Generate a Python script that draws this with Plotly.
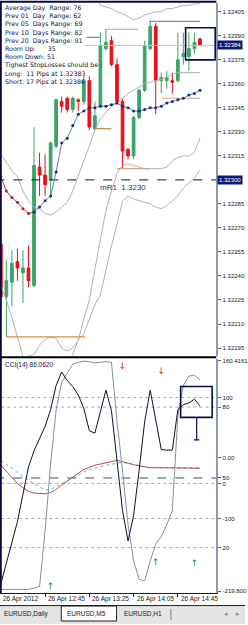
import plotly.graph_objects as go

# ---------------- data ----------------
bars = list(range(37))
opens  = [1.32260,1.32227,1.32236,1.32249,1.32242,1.32245,1.32234,1.32308,1.32303,1.32300,
          1.32321,1.32349,1.32351,1.32344,1.32350,1.32349,1.32362,1.32332,1.32346,1.32382,
          1.32387,1.32372,1.32349,1.32319,1.32315,1.32339,1.32356,1.32382,1.32396,1.32362,
          1.32362,1.32362,1.32362,1.32377,1.32377,1.32382,1.32388]
highs  = [1.32262,1.32250,1.32256,1.32257,1.32256,1.32259,1.32333,1.32317,1.32316,1.32324,
          1.32351,1.32352,1.32352,1.32352,1.32351,1.32365,1.32365,1.32349,1.32392,1.32394,
          1.32390,1.32376,1.32351,1.32320,1.32340,1.32357,1.32387,1.32399,1.32398,1.32367,
          1.32368,1.32367,1.32392,1.32392,1.32392,1.32392,1.32389]
lows   = [1.32216,1.32202,1.32221,1.32237,1.32223,1.32233,1.32233,1.32290,1.32290,1.32289,
          1.32320,1.32342,1.32342,1.32342,1.32343,1.32347,1.32331,1.32331,1.32345,1.32381,
          1.32371,1.32347,1.32307,1.32313,1.32313,1.32338,1.32355,1.32381,1.32341,1.32354,
          1.32357,1.32354,1.32361,1.32372,1.32368,1.32379,1.32384]
closes = [1.32227,1.32237,1.32248,1.32245,1.32245,1.32237,1.32309,1.32303,1.32297,1.32323,
          1.32350,1.32346,1.32344,1.32351,1.32349,1.32362,1.32333,1.32340,1.32384,1.32386,
          1.32372,1.32349,1.32318,1.32315,1.32339,1.32356,1.32384,1.32396,1.32362,1.32364,
          1.32364,1.32361,1.32375,1.32379,1.32382,1.32386,1.32384]

ma_line = [1.32302,1.32293,1.32289,1.32286,1.32282,1.32279,1.32280,1.32283,1.32287,1.32290,
           1.32305,1.32323,1.32326,1.32334,1.32341,1.32343,1.32345,1.32345,1.32346,1.32346,
           1.32347,1.32348,1.32346,1.32345,1.32343,1.32343,1.32344,1.32345,1.32345,1.32346,
           1.32348,1.32349,1.32350,1.32351,1.32353,1.32354,1.32356]
ma_down_bars = 6   # bars drawn as red dots

band_1 = [1.32316,1.32311,1.32306,1.32302,1.32293,1.32287,1.32283,1.32282,1.32279,1.32278,
          1.32280,1.32283,1.32286,1.32293,1.32303,1.32312,1.32321,1.32331,1.32338,1.32342,
          1.32346,1.32348,1.32351,1.32354,1.32356,1.32358,1.32360,1.32361,1.32362,1.32363,
          1.32364,1.32366,1.32367,1.32367,1.32367,1.32367,1.32367]
band_2 = [None]*16 + [1.32425,1.32418,1.32409,1.32408,1.32407,1.32405,1.32404,1.32402,1.32400,
          1.32401,1.32403,1.32404,1.32405,1.32405,1.32407,1.32407,1.32408,1.32409,1.32409,
          1.32410,1.32410]
band_3 = [1.32234,1.32225,1.32214,1.32202,1.32191,1.32178,1.32172,1.32169,1.32169,1.32169,
          1.32172,1.32178,1.32184,1.32191,1.32200,1.32213,1.32225,1.32244,1.32262,1.32281,
          1.32293,1.32304,1.32309,1.32310,1.32309,1.32308,1.32307,1.32307,1.32307,1.32307,
          1.32308,1.32312,1.32314,1.32315,1.32315,1.32317,1.32326]
band_4 = [1.32181,1.32184,1.32188,1.32189,1.32189,1.32190,1.32191,1.32197,1.32200,1.32202,
          1.32201,1.32195,1.32193,1.32195,1.32200,1.32204,1.32213,1.32222,1.32228,1.32244,
          1.32259,1.32272,1.32287,1.32290,1.32288,1.32287,1.32286,1.32285,1.32283,1.32282,
          1.32284,1.32287,1.32290,1.32295,1.32298,1.32301,1.32306]

# horizontal drawn levels: (start bar, end bar, price, colour)
levels_main = [
    (1.0, 15.2, 1.32202, "#d98c4a"),
    (17.1, 20.0, 1.32332, "#c98a5a"),
    (21.0, 27.0, 1.32307, "#c9a587"),
    (29.1, 36.0, 1.32351, "#c9a587"),
    (18.8, 24.8, 1.32394, "#8cc4dc"),
    (26.8, 36.0, 1.32399, "#6f97a3"),
    (15.5, 17.9, 1.32389, "#6f97a3"),
]
pivot_price = 1.32300
pivot_label = "mR1  1.3230"
current_price = 1.32384
current_from_bar = 15.2
price_box = (33.4, 38.75, 1.32395, 1.32375)

price_ticks = [1.32405,1.32390,1.32375,1.32360,1.32345,1.32330,1.32315,1.32285,
               1.32270,1.32255,1.32240,1.32225,1.32210,1.32195]

info_lines = ["Average Day  Range: 76", "Prev 01  Day  Range: 62", "Prev 05  Days Range: 69",
              "Prev 10  Days Range: 82", "Prev 20  Days Range: 91", "Room Up:      35",
              "Room Down: 51", "Tighest StopLosses should be :", "Long:  11 Pips at 1.32383",
              "Short: 17 Pips at 1.32386"]

cci_main = [-208,-175,-140,-105,-60,-15,12,32,52,80,120,142,128,118,104,82,45,41,75,112,
            78,-10,-87,-137,-95,-20,60,112,60,14,13,13,80,88,91,97,86]
cci_slow = [-217,-217,-217,-217,-217,-217,-215,-212,-120,-10,80,125,140,155,158,160,159,157,
            158,159,158,60,-20,-110,-170,-200,-203,-170,-142,-130,-110,-87,70,120,135,137,129]
cci_red  = [-12,-22,-32,-42,-49,-55,-58,-59,-59,-57,-52,-45,-38,-32,-25,-19,-15,-12,-10,-8,
            -6,-4,-6,-9,-11,-13,-15,-16,-16,-16,-16,-16,-17,-17,-17,-17,-17]
cci_teal = [-4,-10,-17,-24,-31,-37,-42,-48,-53,-52,-47,-42,-37,-32,-27,-23,-19,-16,-14,-12,
            -10,-8,-7,-9,-11,-13,-15,-16,-16,-16,-16,-16,-16,-16,-16,-16,-16]
cci_title = "CCI(14) 86.0620"
cci_tick_vals = [160.4161, 100, 84, 0, -33, -42, -100, -148, -219.8]
cci_tick_text = ["160.4161", "100", "80", "0.00", "50", "0", "-100", "20", "-219.800"]
cci_dotted = [100, 84, -42, -100, -148]
cci_dashed = [-33]
sell_arrows_bar = [22, 29]
sell_arrows_val = [150, 142]
buy_arrows_bar = [9, 28, 35]
buy_arrows_val = [-213, -173, -175]
cci_box = (32.5, 38.2, 118, 67)
cci_box_arrow = (35.4, 66, 30)

time_bars = [0, 8, 16, 24, 32]
time_labels = ["26 Apr 2012", "26 Apr 12:45", "26 Apr 13:25", "26 Apr 14:05", "26 Apr 14:45"]
tabs = ["EURUSD,Daily", "EURUSD,M5", "EURUSD,H1"]

# ---------------- figure ----------------
W, H = 248, 625
def fx(p): return p / W
def fy(p): return 1 - p / H

GREEN = "#3aa46a"
RED = "#e8101a"
GRAY = "#b2b2b2"

fig = go.Figure()

for b in (band_1, band_2, band_3, band_4):
    fig.add_trace(go.Scatter(x=bars, y=b, mode="lines", line=dict(color=GRAY, width=1),
                             hoverinfo="skip", connectgaps=False))

for (x0, x1, p, c) in levels_main:
    fig.add_trace(go.Scatter(x=[x0, x1], y=[p, p], mode="lines", line=dict(color=c, width=1.2),
                             hoverinfo="skip"))

fig.add_trace(go.Scatter(x=[current_from_bar, 40], y=[current_price, current_price], mode="lines",
                         line=dict(color="#c4c4c4", width=1), hoverinfo="skip"))
fig.add_trace(go.Scatter(x=[-1, 40], y=[pivot_price, pivot_price], mode="lines",
                         line=dict(color="#101020", width=1, dash="dash"), hoverinfo="skip"))

# MA line: red while falling, blue while rising
fig.add_trace(go.Scatter(x=bars[:ma_down_bars+1], y=ma_line[:ma_down_bars+1], mode="lines",
                         line=dict(color="#b04040", width=1), hoverinfo="skip"))
fig.add_trace(go.Scatter(x=bars[:ma_down_bars], y=ma_line[:ma_down_bars], mode="markers",
                         marker=dict(color="#b02020", size=3), hoverinfo="skip"))
fig.add_trace(go.Scatter(x=bars[ma_down_bars:], y=ma_line[ma_down_bars:], mode="lines+markers",
                         line=dict(color="#5a7fa8", width=1),
                         marker=dict(color="#1a2a80", size=3), hoverinfo="skip"))

fig.add_trace(go.Candlestick(x=bars, open=opens, high=highs, low=lows, close=closes,
                             increasing=dict(line=dict(color=GREEN, width=1), fillcolor=GREEN),
                             decreasing=dict(line=dict(color=RED, width=1), fillcolor=RED),
                             whiskerwidth=0, hoverinfo="skip"))

# CCI window
for v in cci_dotted:
    fig.add_trace(go.Scatter(x=[-1, 40], y=[v, v], mode="lines", yaxis="y2",
                             line=dict(color="#a8a8a8", width=1, dash="dot"), hoverinfo="skip"))
for v in cci_dashed:
    fig.add_trace(go.Scatter(x=[-1, 40], y=[v, v], mode="lines", yaxis="y2",
                             line=dict(color="#405060", width=1, dash="dash"), hoverinfo="skip"))
fig.add_trace(go.Scatter(x=bars, y=cci_teal, mode="lines", yaxis="y2",
                         line=dict(color="#5ab4c4", width=1, dash="dot"), hoverinfo="skip"))
fig.add_trace(go.Scatter(x=bars, y=cci_red, mode="lines", yaxis="y2",
                         line=dict(color="#b05048", width=1), hoverinfo="skip"))
fig.add_trace(go.Scatter(x=bars, y=cci_slow, mode="lines", yaxis="y2",
                         line=dict(color="#7d90a2", width=1), hoverinfo="skip"))
fig.add_trace(go.Scatter(x=bars, y=cci_main, mode="lines", yaxis="y2",
                         line=dict(color="#10102a", width=1), hoverinfo="skip"))
fig.add_trace(go.Scatter(x=sell_arrows_bar, y=sell_arrows_val, mode="text", text=["\u2193"]*len(sell_arrows_bar),
                         yaxis="y2", textfont=dict(color="#e02020", size=9, family="DejaVu Sans"),
                         hoverinfo="skip"))
fig.add_trace(go.Scatter(x=buy_arrows_bar, y=buy_arrows_val, mode="text", text=["\u2191"]*len(buy_arrows_bar),
                         yaxis="y2", textfont=dict(color="#208a40", size=9, family="DejaVu Sans"),
                         hoverinfo="skip"))

shapes = []
NAVY = "#0a0a50"
bx0, bx1, by0, by1 = price_box
shapes.append(dict(type="rect", xref="x", yref="y", x0=bx0, x1=bx1, y0=by0, y1=by1,
                   line=dict(color=NAVY, width=1.6)))
cx0, cx1, cy0, cy1 = cci_box
shapes.append(dict(type="rect", xref="x", yref="y2", x0=cx0, x1=cx1, y0=cy0, y1=cy1,
                   line=dict(color=NAVY, width=1.6)))
ax, ay0, ay1 = cci_box_arrow
shapes.append(dict(type="line", xref="x", yref="y2", x0=ax, x1=ax, y0=ay0, y1=ay1,
                   line=dict(color=NAVY, width=1.2)))
shapes.append(dict(type="line", xref="x", yref="y2", x0=ax-0.5, x1=ax+0.5, y0=ay1, y1=ay1,
                   line=dict(color=NAVY, width=1.2)))
# frame
shapes.append(dict(type="line", xref="paper", yref="paper", x0=0, x1=fx(219), y0=fy(0.8), y1=fy(0.8),
                   line=dict(color="#0a0a3a", width=2)))
shapes.append(dict(type="line", xref="paper", yref="paper", x0=fx(0.8), x1=fx(0.8), y0=fy(594), y1=fy(0),
                   line=dict(color="#0a0a3a", width=2)))
shapes.append(dict(type="line", xref="paper", yref="paper", x0=0, x1=fx(219), y0=fy(357.5), y1=fy(357.5),
                   line=dict(color="#000000", width=2)))
# tab bar
shapes.append(dict(type="rect", xref="paper", yref="paper", x0=0, x1=1, y0=0, y1=fy(606),
                   fillcolor="#e4e4e4", line=dict(width=0)))
shapes.append(dict(type="line", xref="paper", yref="paper", x0=0, x1=1, y0=fy(606.5), y1=fy(606.5),
                   line=dict(color="#202020", width=1)))
shapes.append(dict(type="rect", xref="paper", yref="paper", x0=fx(62), x1=fx(118), y0=fy(622), y1=fy(607),
                   fillcolor="#ffffff", line=dict(color="#202020", width=1)))
shapes.append(dict(type="line", xref="paper", yref="paper", x0=fx(173), x1=fx(173), y0=fy(621), y1=fy(610),
                   line=dict(color="#808080", width=1)))

annotations = []
annotations.append(dict(xref="paper", yref="paper", x=fx(2.5), y=fy(1.5), xanchor="left", yanchor="top",
                        align="left", showarrow=False,
                        text="<br>".join(s.replace("  ", "\u00a0\u00a0").replace("\u00a0 ", "\u00a0\u00a0") for s in info_lines),
                        font=dict(family="DejaVu Sans", size=6.3, color="#10103a")))
annotations.append(dict(xref="x", yref="y", x=17.6, y=pivot_price, xanchor="left", yanchor="top",
                        yshift=-1, showarrow=False, text=pivot_label.replace("  ", "\u00a0\u00a0"),
                        font=dict(family="Liberation Sans", size=8, color="#303048")))
for p, txt in ((current_price, "1.32384"), (pivot_price, "1.32300")):
    annotations.append(dict(xref="paper", yref="y", x=fx(220), y=p, xanchor="left", yanchor="middle",
                            showarrow=False, text=txt, bgcolor="#0c1a78", borderpad=1,
                            font=dict(family="Liberation Sans", size=6, color="#ffffff")))
annotations.append(dict(xref="paper", yref="paper", x=fx(3), y=fy(359.5), xanchor="left", yanchor="top",
                        showarrow=False, text=cci_title,
                        font=dict(family="Liberation Sans", size=6.5, color="#10104a")))
for b, t in zip(time_bars, time_labels):
    annotations.append(dict(xref="x", yref="paper", x=b, y=fy(600), xanchor="left", yanchor="middle",
                            xshift=1 if b else 0, showarrow=False, text=t,
                            font=dict(family="Liberation Sans", size=6.5, color="#202020")))
for xc, t in zip((26, 88, 145), tabs):
    annotations.append(dict(xref="paper", yref="paper", x=fx(xc), y=fy(614.5), xanchor="center",
                            yanchor="middle", showarrow=False, text=t,
                            font=dict(family="Liberation Sans", size=6.5, color="#202020")))
for xc, t in ((229, "\u25c2"), (241, "\u25b8")):
    annotations.append(dict(xref="paper", yref="paper", x=fx(xc), y=fy(615), xanchor="center",
                            yanchor="middle", showarrow=False, text=t,
                            font=dict(family="DejaVu Sans", size=7, color="#909090")))

axis_font = dict(family="Liberation Sans", size=6, color="#202020")
fig.update_layout(
    width=W, height=H, margin=dict(l=0, r=0, t=0, b=0),
    paper_bgcolor="#ffffff", plot_bgcolor="#ffffff", showlegend=False,
    xaxis=dict(domain=[0, fx(219)], range=[-0.15, 38.96], anchor="y2", showgrid=False,
               zeroline=False, showticklabels=False, ticks="outside", tickvals=time_bars[1:],
               ticklen=3, tickcolor="#202020", showline=True, linecolor="#202020", linewidth=1,
               rangeslider=dict(visible=False)),
    yaxis=dict(domain=[fy(356), fy(2)], range=[1.321901, 1.324105], side="right", anchor="x",
               showgrid=False, zeroline=False, tickvals=price_ticks,
               ticktext=[f"{v:.5f}" for v in price_ticks], ticks="outside", ticklen=3,
               tickcolor="#606060", showline=True, linecolor="#8c9cb0", linewidth=2,
               tickfont=axis_font),
    yaxis2=dict(domain=[fy(594), fy(359)], range=[-223.1, 163.7], side="right", anchor="x",
                showgrid=False, zeroline=False, tickvals=cci_tick_vals, ticktext=cci_tick_text,
                ticks="outside", ticklen=3, tickcolor="#606060", showline=True,
                linecolor="#8c9cb0", linewidth=2, tickfont=axis_font),
    shapes=shapes, annotations=annotations,
)

fig.write_html("out.html")
